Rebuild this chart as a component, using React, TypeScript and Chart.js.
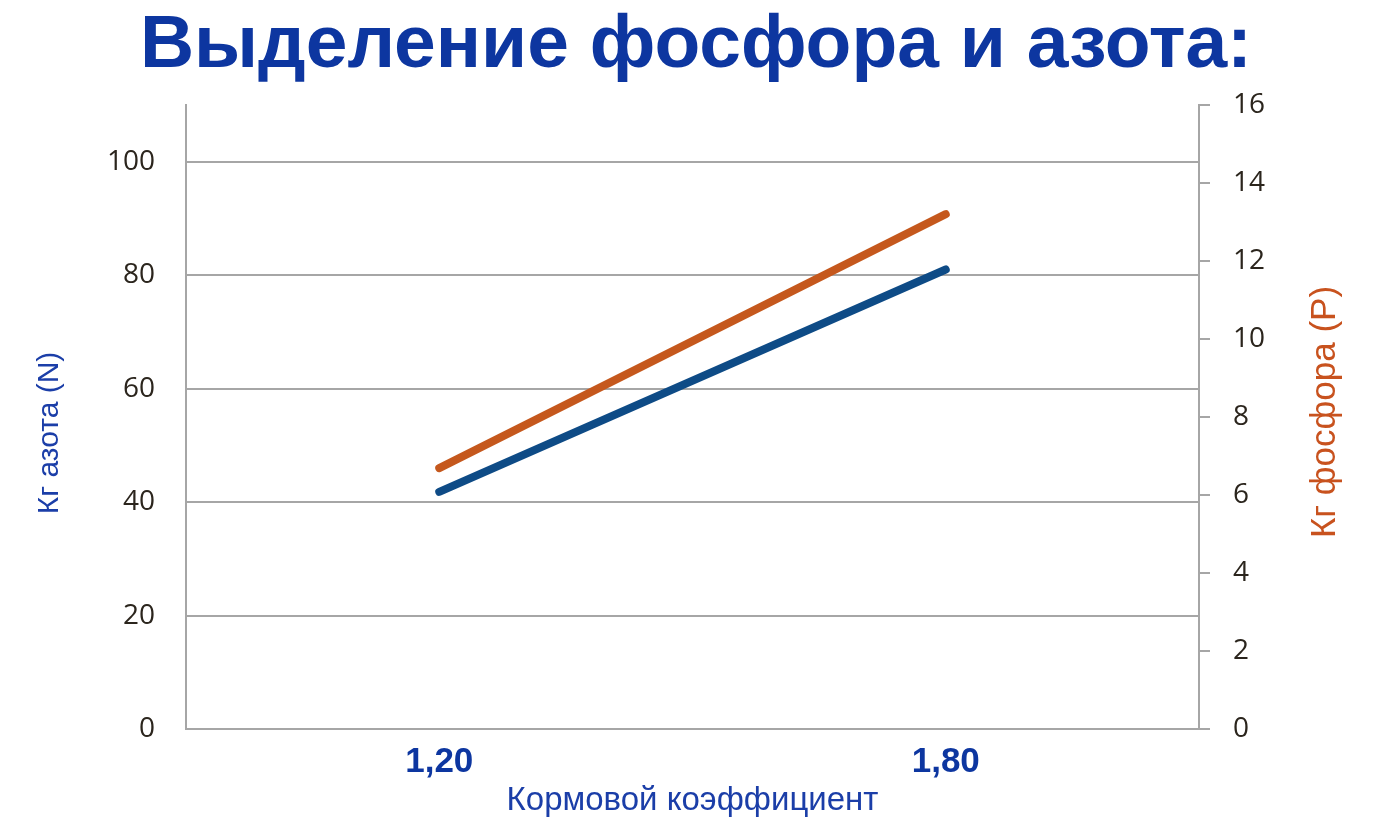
import React, { useEffect, useRef } from "react";
import { Chart, registerables } from "chart.js";

Chart.register(...registerables);

const TITLE = "Выделение фосфора и азота:";
const categories = ["1,20", "1,80"];
const nitrogenKg = [41.8, 81.0];
const phosphorusKg = [6.69, 13.2];
const leftAxisTitle = "Кг азота (N)";
const rightAxisTitle = "Кг фосфора (P)";
const xAxisTitle = "Кормовой коэффициент";

const BLUE_LINE = "#0E4B86";
const ORANGE_LINE = "#C5581D";
const TEXT_BLUE = "#0D36A0";
const AXIS_BLUE = "#1B3EA8";
const ORANGE_TEXT = "#C8521E";
const GRID = "#A6A6A6";
const TICK_TEXT = "#2B251D";

const axisTitlesPlugin = {
  id: "axisTitles",
  afterDraw(chart: any) {
    const { ctx, chartArea } = chart;
    const midY = (chartArea.top + chartArea.bottom) / 2;
    ctx.save();
    ctx.textAlign = "center";
    ctx.textBaseline = "middle";
    // left title
    ctx.font = '30px "Liberation Sans", Arial, sans-serif';
    ctx.fillStyle = AXIS_BLUE;
    ctx.save();
    ctx.translate(chartArea.left - 136, midY + 16);
    ctx.rotate(-Math.PI / 2);
    ctx.fillText(leftAxisTitle, 0, 0);
    ctx.restore();
    // right title
    ctx.font = '35px "Liberation Sans", Arial, sans-serif';
    ctx.fillStyle = ORANGE_TEXT;
    ctx.save();
    ctx.translate(chartArea.right + 126, midY - 5);
    ctx.rotate(-Math.PI / 2);
    ctx.fillText(rightAxisTitle, 0, 0);
    ctx.restore();
    ctx.restore();
  },
};

export default function App() {
  const ref = useRef<HTMLCanvasElement | null>(null);
  useEffect(() => {
    if (!ref.current) return;
    const chart = new Chart(ref.current, {
      type: "line",
      data: {
        labels: categories,
        datasets: [
          {
            label: "N",
            data: nitrogenKg,
            yAxisID: "yN",
            borderColor: BLUE_LINE,
            backgroundColor: BLUE_LINE,
            borderWidth: 8,
            borderCapStyle: "round",
            pointRadius: 0,
            tension: 0,
          },
          {
            label: "P",
            data: phosphorusKg,
            yAxisID: "yP",
            borderColor: ORANGE_LINE,
            backgroundColor: ORANGE_LINE,
            borderWidth: 8,
            borderCapStyle: "round",
            pointRadius: 0,
            tension: 0,
          },
        ],
      },
      options: {
        responsive: false,
        animation: false,
        devicePixelRatio: 1,
        layout: { padding: 0 },
        plugins: {
          legend: { display: false },
          tooltip: { enabled: false },
          title: {
            display: true,
            text: TITLE,
            color: TEXT_BLUE,
            font: { family: '"Liberation Sans", Arial, sans-serif', size: 75, weight: "bold", lineHeight: 1 },
            padding: { top: 9, bottom: 21 },
          },
        },
        scales: {
          x: {
            type: "category",
            offset: true,
            grid: { display: false, drawTicks: false },
            border: { display: true, color: GRID, width: 2 },
            ticks: {
              color: TEXT_BLUE,
              padding: 12,
              font: { family: '"Liberation Sans Narrow", "Liberation Sans", sans-serif', size: 35, weight: "bold" },
            },
            title: {
              display: true,
              text: xAxisTitle,
              color: AXIS_BLUE,
              font: { family: '"Liberation Sans", Arial, sans-serif', size: 33 },
              padding: { top: 0, bottom: 7 },
            },
            afterFit(scale: any) {
              scale.height = 99;
            },
          },
          yN: {
            type: "linear",
            position: "left",
            min: 0,
            max: 110,
            grid: { color: GRID, lineWidth: 2, drawTicks: false },
            border: { display: true, color: GRID, width: 2 },
            ticks: {
              stepSize: 20,
              includeBounds: false,
              padding: 31,
              color: TICK_TEXT,
              font: { family: '"Open Sans", sans-serif', size: 28 },
              callback: (v: any) => (Number(v) > 100 ? "" : String(v)),
            },
            afterFit(scale: any) {
              scale.width = 186;
            },
          },
          yP: {
            type: "linear",
            position: "right",
            min: 0,
            max: 16,
            grid: { drawOnChartArea: false, drawTicks: true, tickLength: 11, color: GRID, lineWidth: 2 },
            border: { display: true, color: GRID, width: 2 },
            ticks: {
              stepSize: 2,
              padding: 23,
              color: TICK_TEXT,
              font: { family: '"Open Sans", sans-serif', size: 28 },
            },
            afterFit(scale: any) {
              scale.width = 193;
            },
          },
        },
      },
      plugins: [axisTitlesPlugin],
    } as any);
    return () => chart.destroy();
  }, []);

  return (
    <div style={{ position: "absolute", left: 0, top: 0, width: 1392, height: 828, background: "#fff" }}>
      <canvas ref={ref} width={1392} height={828} />
    </div>
  );
}
